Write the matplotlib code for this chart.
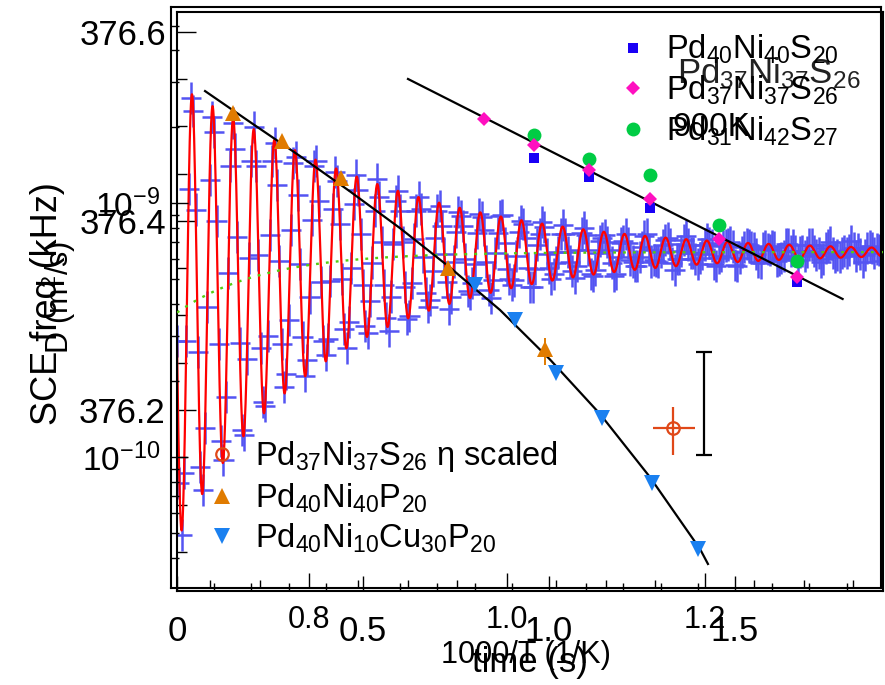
import matplotlib
matplotlib.use('Agg')
import matplotlib.pyplot as plt
import numpy as np
from matplotlib.lines import Line2D
from matplotlib.ticker import MultipleLocator, FixedLocator, LogLocator, NullFormatter, LogFormatterMathtext

plt.rcParams['font.family'] = ['Liberation Sans', 'DejaVu Sans']
plt.rcParams['mathtext.fontset'] = 'custom'
plt.rcParams['mathtext.rm'] = 'Liberation Sans'
plt.rcParams['mathtext.it'] = 'Liberation Sans:italic'
plt.rcParams['mathtext.bf'] = 'Liberation Sans:bold'
plt.rcParams['axes.unicode_minus'] = False

# ---- SCE frequency vs time ----
# sweep A sampled at t = i*t_step, sweep B at t = (i+0.5)*t_step
t_step = 0.0125
sce_freq_a = [
    376.273, 376.068, 376.273, 376.530, 376.412, 376.140, 376.181, 376.443, 376.494, 376.270,
    376.147, 376.345, 376.504, 376.383, 376.179, 376.254, 376.463, 376.458, 376.266, 376.204,
    376.385, 376.482, 376.358, 376.224, 376.295, 376.461, 376.427, 376.277, 376.253, 376.401,
    376.463, 376.335, 376.258, 376.336, 376.452, 376.397, 376.286, 376.293, 376.418, 376.433,
    376.332, 376.281, 376.356, 376.444, 376.378, 376.297, 376.320, 376.421, 376.411, 376.330,
    376.299, 376.381, 376.425, 376.362, 376.309, 376.347, 376.411, 376.395, 376.335, 376.319,
    376.388, 376.405, 376.360, 376.323, 376.354, 376.407, 376.390, 376.327, 376.338, 376.387,
    376.406, 376.349, 376.332, 376.363, 376.400, 376.382, 376.330, 376.349, 376.386, 376.394,
    376.350, 376.344, 376.367, 376.396, 376.367, 376.347, 376.352, 376.387, 376.385, 376.344,
    376.348, 376.379, 376.385, 376.369, 376.342, 376.362, 376.379, 376.377, 376.357, 376.352,
    376.372, 376.386, 376.357, 376.358, 376.367, 376.380, 376.376, 376.348, 376.360, 376.380,
    376.375, 376.366, 376.354, 376.365, 376.381, 376.374, 376.352, 376.363, 376.374, 376.378,
    376.353, 376.361, 376.372, 376.374, 376.371, 376.357, 376.371, 376.370, 376.373, 376.358,
    376.361, 376.376, 376.368, 376.368, 376.367, 376.363, 376.375, 376.368, 376.366, 376.360,
    376.374, 376.366, 376.364, 376.366, 376.366, 376.379, 376.363, 376.365, 376.364, 376.373,
    376.366, 376.369,
]
sce_freq_b = [
    376.123, 376.133, 376.434, 376.516, 376.261, 376.115, 376.309, 376.510, 376.400, 376.167,
    376.214, 376.458, 376.476, 376.271, 376.174, 376.361, 376.499, 376.364, 376.208, 376.278,
    376.463, 376.438, 376.270, 376.238, 376.390, 376.468, 376.354, 376.236, 376.319, 376.458,
    376.421, 376.273, 376.275, 376.413, 376.442, 376.339, 376.266, 376.350, 376.449, 376.386,
    376.289, 376.315, 376.411, 376.425, 376.332, 376.284, 376.376, 376.432, 376.378, 376.296,
    376.334, 376.411, 376.413, 376.324, 376.316, 376.382, 376.416, 376.365, 376.307, 376.357,
    376.409, 376.395, 376.326, 376.334, 376.387, 376.404, 376.357, 376.318, 376.366, 376.405,
    376.377, 376.339, 376.337, 376.388, 376.397, 376.350, 376.330, 376.375, 376.399, 376.365,
    376.339, 376.356, 376.386, 376.386, 376.357, 376.340, 376.369, 376.393, 376.369, 376.342,
    376.366, 376.382, 376.378, 376.356, 376.344, 376.377, 376.386, 376.359, 376.352, 376.362,
    376.384, 376.369, 376.359, 376.357, 376.374, 376.382, 376.355, 376.360, 376.368, 376.384,
    376.366, 376.360, 376.361, 376.375, 376.377, 376.354, 376.361, 376.373, 376.375, 376.373,
    376.352, 376.367, 376.376, 376.372, 376.365, 376.356, 376.373, 376.369, 376.372, 376.359,
    376.363, 376.376, 376.374, 376.359, 376.368, 376.367, 376.375, 376.364, 376.357, 376.371,
    376.378, 376.362, 376.362, 376.368, 376.369, 376.371, 376.370, 376.357, 376.371, 376.371,
    376.370, 376.358,
]
sce_xerr = 0.027
sce_yerr = 0.017

# fit parameters: damped oscillation on a relaxing baseline
fit_base = 376.367
fit_base_drop = 0.064
fit_base_tau = 0.23
fit_amp = 0.24
fit_tau = 0.48
fit_period = 0.05537
fit_t0 = 0.0403

time_ticks = [0, 0.5, 1.0, 1.5]
time_labels = ['0', '0.5', '1.0', '1.5']
freq_ticks = [376.2, 376.4, 376.6]
freq_labels = ['376.2', '376.4', '376.6']

# ---- diffusivity vs 1000/T ----
pd40s_x = [1.027, 1.083, 1.144, 1.293]
pd40s_d = [1.50e-9, 1.27e-9, 9.6e-10, 4.9e-10]
pd37s_x = [0.977, 1.027, 1.083, 1.144, 1.214, 1.293]
pd37s_d = [2.14e-9, 1.69e-9, 1.35e-9, 1.04e-9, 7.2e-10, 5.1e-10]
pd31s_x = [1.027, 1.083, 1.144, 1.214, 1.293]
pd31s_d = [1.85e-9, 1.49e-9, 1.29e-9, 8.2e-10, 5.9e-10]
arrh_x = [0.900, 1.339]
arrh_d = [3.08e-9, 4.19e-10]

pd40p_x = [0.723, 0.773, 0.832, 0.940, 1.038]
pd40p_d = [2.26e-9, 1.75e-9, 1.25e-9, 5.55e-10, 2.66e-10]
pd40p_lo = [0, 0, 0, 0, 0.36e-10]
pd40p_hi = [0, 0, 0, 0, 0.28e-10]
pdcu_x = [0.968, 1.008, 1.049, 1.096, 1.146, 1.193]
pdcu_d = [4.75e-10, 3.46e-10, 2.14e-10, 1.43e-10, 7.9e-11, 4.35e-11]
vft_x = [0.695, 0.740, 0.791, 0.841, 0.892, 0.942, 0.993, 1.043, 1.094, 1.144, 1.195, 1.203]
vft_d = [2.76e-9, 2.09e-9, 1.53e-9, 1.114e-9, 7.96e-10, 5.59e-10, 3.79e-10, 2.43e-10,
         1.476e-10, 8.37e-11, 4.34e-11, 3.79e-11]

eta_x = 1.168
eta_d = 1.30e-10
eta_xerr = [[0.021], [0.022]]
eta_derr = [[0.28e-10], [0.27e-10]]
rep_x = 1.199
rep_d = 1.63e-10
rep_derr = [[0.61e-10], [0.96e-10]]

invT_ticks = [0.8, 1.0, 1.2]
invT_labels = ['0.8', '1.0', '1.2']

fig = plt.figure(figsize=(8.85, 6.85), dpi=100)

# ---------- time plot (underneath) ----------
ax_t = fig.add_axes([177 / 885, 1 - 591 / 685, 706 / 885, 579 / 685])
times_a = t_step * np.arange(len(sce_freq_a))
times_b = t_step * (np.arange(len(sce_freq_b)) + 0.5)
times = np.concatenate([times_a, times_b])
freqs = np.concatenate([sce_freq_a, sce_freq_b])
ax_t.errorbar(times, freqs, xerr=sce_xerr, yerr=sce_yerr, fmt='none',
              ecolor='#5454f2', elinewidth=1.8, capsize=0, zorder=1)
tt = np.linspace(0, 1.9, 4000)
base = fit_base - fit_base_drop * np.exp(-tt / fit_base_tau)
osc = base + fit_amp * np.exp(-tt / fit_tau) * np.cos(2 * np.pi * (tt - fit_t0) / fit_period)
ax_t.plot(tt, osc, color='#ff0000', lw=1.6, zorder=2)
ax_t.plot(tt, base, color='#55cc11', lw=1.7, ls=(0, (1.2, 3.0)), zorder=3)
ax_t.set_xlim(0, 1.898)
ax_t.set_ylim(376.0085, 376.621)
ax_t.xaxis.set_major_locator(FixedLocator(time_ticks))
ax_t.set_xticklabels(time_labels)
ax_t.xaxis.set_minor_locator(MultipleLocator(0.1))
ax_t.yaxis.set_major_locator(FixedLocator(freq_ticks))
ax_t.set_yticklabels(freq_labels)
ax_t.yaxis.set_minor_locator(MultipleLocator(0.05))
ax_t.tick_params(which='both', direction='in', top=False, right=False, width=1.0)
ax_t.tick_params(axis='y', which='major', length=14, pad=8, labelsize=25)
ax_t.tick_params(axis='y', which='minor', length=7)
ax_t.tick_params(axis='x', which='major', length=11, pad=17, labelsize=25)
ax_t.tick_params(axis='x', which='minor', length=6)
ax_t.set_xlabel('time (s)', fontsize=25)
ax_t.xaxis.set_label_coords(0.5, -0.095)
ax_t.set_ylabel('SCE freq (kHz)', fontsize=26)
ax_t.yaxis.set_label_coords(-0.158, 0.497)
for s in ax_t.spines.values():
    s.set_linewidth(1.5)
ax_t.text(677 / 885, 1 - 73 / 685, 'Pd$_{37}$Ni$_{37}$S$_{26}$', transform=fig.transFigure,
          fontsize=25, va='center', ha='left', color='#222222')

# ---------- diffusivity plot (on top) ----------
ax_d = fig.add_axes([171 / 885, 1 - 588 / 685, 710 / 885, 581 / 685])
ax_d.patch.set_visible(False)
ax_d.set_yscale('log')
ax_d.plot(arrh_x, arrh_d, color='black', lw=1.6, zorder=2)
ax_d.plot(vft_x, vft_d, color='black', lw=1.6, zorder=2)
ax_d.plot(pd40s_x, pd40s_d, 's', color='#1a00f5', ms=7.5, mew=0, zorder=3)
ax_d.plot(pd31s_x, pd31s_d, 'o', color='#00cc44', ms=10, mew=0, zorder=3)
ax_d.plot(pd37s_x, pd37s_d, 'D', color='#ff10c0', ms=7.5, mew=0, zorder=4)
ax_d.errorbar(pd40p_x, pd40p_d, yerr=[pd40p_lo, pd40p_hi], fmt='^', color='#e07b00',
              ms=11, mew=0, elinewidth=1.4, capsize=0, zorder=4)
ax_d.plot(pdcu_x, pdcu_d, 'v', color='#1a80f0', ms=11, mew=0, zorder=4)
ax_d.errorbar([eta_x], [eta_d], xerr=eta_xerr, yerr=eta_derr, fmt='o', mfc='none',
              mec='#e04818', ecolor='#e04818', ms=9, mew=1.6, elinewidth=1.6, capsize=0, zorder=4)
ax_d.errorbar([rep_x], [rep_d], yerr=rep_derr, fmt='none', ecolor='black',
              elinewidth=1.6, capsize=6, capthick=1.6, zorder=4)
ax_d.set_xlim(0.6606, 1.3778)
ax_d.set_ylim(10 ** -10.516, 10 ** -8.228)
ax_d.xaxis.set_major_locator(FixedLocator(invT_ticks))
ax_d.set_xticklabels(invT_labels)
ax_d.xaxis.set_minor_locator(MultipleLocator(0.05))
ax_d.yaxis.set_major_locator(LogLocator(base=10, numticks=10))
ax_d.yaxis.set_major_formatter(LogFormatterMathtext())
ax_d.yaxis.set_minor_locator(LogLocator(base=10, subs=np.arange(2, 10), numticks=20))
ax_d.yaxis.set_minor_formatter(NullFormatter())
ax_d.tick_params(which='both', direction='in', top=False, right=False, width=1.0)
ax_d.tick_params(axis='y', which='major', length=12, pad=8, labelsize=24)
ax_d.tick_params(axis='y', which='minor', length=6)
ax_d.tick_params(axis='x', which='major', length=11, pad=12, labelsize=22)
ax_d.tick_params(axis='x', which='minor', length=6)
ax_d.set_xlabel('1000/T (1/K)', fontsize=22)
ax_d.xaxis.set_label_coords(0.5, -0.09)
ax_d.set_ylabel('D (m$^{2}$/s)', fontsize=22)
ax_d.yaxis.set_label_coords(-0.131, 0.50)
for s in ax_d.spines.values():
    s.set_linewidth(1.5)

h1 = [Line2D([], [], ls='none', marker='s', color='#1a00f5', ms=7.5, mew=0),
      Line2D([], [], ls='none', marker='D', color='#ff10c0', ms=7.5, mew=0),
      Line2D([], [], ls='none', marker='o', color='#00cc44', ms=10, mew=0)]
l1 = ['Pd$_{40}$Ni$_{40}$S$_{20}$', 'Pd$_{37}$Ni$_{37}$S$_{26}$', 'Pd$_{31}$Ni$_{42}$S$_{27}$']
leg1 = ax_d.legend(h1, l1, loc='upper left', bbox_to_anchor=(617 / 885, 1 - 33 / 685),
                   bbox_transform=fig.transFigure, frameon=False, fontsize=23.5,
                   handlelength=0.95, handletextpad=0.55, labelspacing=0.22,
                   borderpad=0, borderaxespad=0)
ax_d.add_artist(leg1)
ax_d.text(672 / 885, 1 - 128 / 685, '900K', transform=fig.transFigure, fontsize=24,
          va='center', ha='left')

h2 = [Line2D([], [], ls='none', marker='o', mfc='none', mec='#e04818', ms=9, mew=1.6),
      Line2D([], [], ls='none', marker='^', color='#e07b00', ms=11, mew=0),
      Line2D([], [], ls='none', marker='v', color='#1a80f0', ms=11, mew=0)]
l2 = ['Pd$_{37}$Ni$_{37}$S$_{26}$ η scaled', 'Pd$_{40}$Ni$_{40}$P$_{20}$',
      'Pd$_{40}$Ni$_{10}$Cu$_{30}$P$_{20}$']
ax_d.legend(h2, l2, loc='upper left', bbox_to_anchor=(206 / 885, 1 - 439 / 685),
            bbox_transform=fig.transFigure, frameon=False, fontsize=23.5,
            handlelength=0.95, handletextpad=0.55, labelspacing=0.22,
            borderpad=0, borderaxespad=0)

fig.savefig('out.png', dpi=100)
